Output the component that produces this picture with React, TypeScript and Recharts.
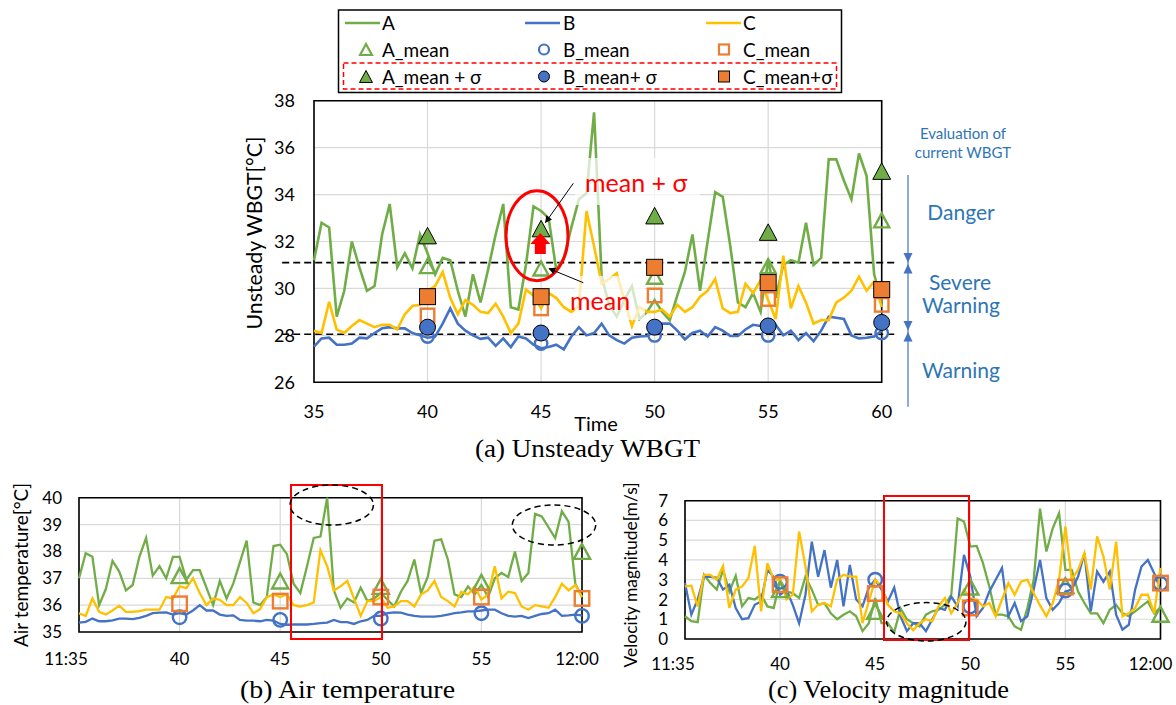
import React from "react";
import {
  ComposedChart,
  Line,
  Scatter,
  XAxis,
  YAxis,
  CartesianGrid,
  ReferenceArea,
  ReferenceLine,
} from "recharts";

const GREEN = "#70ad47";
const BLUE = "#4472c4";
const YELLOW = "#ffc000";
const ORANGE = "#ed7d31";
const NOTE = "#2e75b6";
const SANS = "Lato, 'Open Sans', sans-serif";
const SERIF = "'Liberation Serif', 'DejaVu Serif', serif";

// one sample every 20 s, 11:35 -> 12:00
const wbgtA = [
  31.2, 32.8, 32.6, 28.8, 29.9, 32.0, 30.9, 29.9, 30.1, 32.3,
  33.6, 30.9, 31.5, 30.85, 32.3, 31.5, 30.6, 31.3, 31.2, 29.9,
  28.8, 30.6, 29.4, 30.8, 32.3, 33.6, 29.2, 29.1, 31.0, 33.5,
  33.3, 33.0, 30.8, 31.3, 32.6, 33.8, 34.05, 37.5, 30.5, 29.3,
  28.8, 29.5, 30.1, 28.7, 29.0, 29.5, 29.0, 28.65, 29.7, 30.7,
  32.3, 29.9, 32.0, 34.1, 33.9, 31.8, 29.4, 29.2, 29.8, 29.0,
  31.2, 29.6, 31.0, 31.2, 31.1, 32.8, 31.0, 31.3, 35.5, 35.5,
  34.6, 33.8, 35.75, 34.8, 30.6, 29.4,
];
const wbgtB = [
  27.52, 27.87, 27.9, 27.6, 27.6, 27.65, 27.9, 27.87, 28.1, 28.3,
  28.35, 28.3, 28.3, 28.1, 28.0, 27.9, 27.95, 28.5, 29.15, 28.5,
  28.2, 28.0, 27.85, 27.9, 27.55, 27.87, 27.5, 27.95, 27.87, 27.6,
  27.45, 27.5, 27.6, 27.4, 27.95, 28.35, 28.0, 28.1, 28.5, 28.0,
  27.8, 27.65, 27.9, 27.95, 27.97, 28.2, 28.5, 28.5, 28.2, 27.83,
  28.1, 28.2, 27.95, 28.35, 28.2, 27.97, 27.97, 28.25, 28.45, 28.4,
  28.4, 28.45, 28.0, 28.2, 27.8, 28.1, 27.75, 28.2, 28.8, 28.75,
  28.7, 28.0, 27.87, 27.9, 27.95, 28.2,
];
const wbgtC = [
  28.2, 28.1, 29.43, 28.25, 28.1, 28.4, 28.65, 28.5, 28.35, 28.45,
  28.45, 28.25, 28.9, 29.25, 29.3, 29.9, 30.1, 30.7, 29.6, 28.9,
  29.5, 29.3, 29.0, 28.95, 29.35, 28.8, 28.1, 28.5, 29.95, 29.7,
  29.15, 29.8, 29.6, 29.2, 29.0, 29.25, 33.3, 31.8, 30.2, 30.4,
  30.65, 29.5, 28.4, 29.2, 29.0, 29.0, 29.1, 28.8, 29.3, 29.0,
  29.2, 29.65, 29.9, 30.4, 29.15, 28.95, 29.0, 30.2, 29.8, 30.35,
  29.5, 28.7, 31.4, 29.15, 30.1, 29.4, 28.5, 28.65, 28.65, 29.4,
  29.6, 29.9, 30.5, 29.9, 30.3, 29.2,
];

const airA = [
  37.0, 37.93, 37.8, 36.0, 36.6, 37.65, 37.25, 36.55, 36.75, 37.8,
  38.5, 37.1, 37.45, 37.0, 37.8, 37.8, 36.95, 37.3, 37.3, 36.65,
  36.0, 36.9, 36.25, 36.8, 37.6, 38.4, 36.1, 36.0, 36.3, 38.2,
  38.25, 37.9, 36.8, 36.45, 37.45, 38.5, 38.55, 40.0, 36.55, 35.9,
  36.25, 36.1, 36.65, 36.15, 36.25, 36.45, 36.2, 35.95, 36.5, 36.9,
  37.7, 36.45, 37.05, 38.4, 38.45, 37.7, 36.4, 36.3, 36.7, 36.4,
  36.75, 36.3, 37.0, 37.2, 37.05, 38.0, 36.9, 37.2, 39.4, 39.3,
  38.9, 38.5, 39.5, 39.1, 36.8, 36.3,
];
const airB = [
  35.35, 35.38, 35.5, 35.4, 35.4, 35.43, 35.5, 35.5, 35.48, 35.53,
  35.6, 35.7, 35.72, 35.73, 35.65, 35.7, 35.65, 35.8, 36.0, 35.8,
  35.8, 35.65, 35.6, 35.62, 35.45, 35.42, 35.42, 35.4, 35.45, 35.42,
  35.3, 35.27, 35.28, 35.28, 35.28, 35.3, 35.33, 35.35, 35.45, 35.37,
  35.37, 35.3, 35.4, 35.45, 35.6, 35.6, 35.7, 35.73, 35.72, 35.65,
  35.6, 35.57, 35.57, 35.57, 35.6, 35.65, 35.7, 35.73, 35.77, 35.77,
  35.8, 35.83, 35.83, 35.7, 35.6, 35.57, 35.6, 35.52, 35.6, 35.67,
  35.7, 35.83, 35.6, 35.62, 35.65, 35.62,
];
const airC = [
  35.7, 35.6, 36.25, 35.75, 35.65, 35.8, 35.98, 35.75, 35.75, 35.78,
  35.83, 35.83, 35.83, 36.3, 36.25, 36.7, 36.63, 37.0, 36.45, 36.0,
  36.25, 36.2, 36.0, 36.0, 36.3, 36.08, 35.7, 35.85, 36.3, 36.4,
  36.3, 36.4, 36.0, 35.95, 36.0, 36.1, 38.05, 37.45, 36.55, 36.7,
  36.9, 36.25, 35.6, 36.15, 36.15, 36.3, 35.9, 35.95, 36.15, 36.15,
  35.95, 36.4, 36.55, 36.9, 36.3, 36.15, 35.95, 36.5, 36.4, 36.7,
  36.2, 36.4, 37.45, 36.25, 36.5, 36.45, 35.95, 35.83, 36.0, 35.95,
  35.9, 36.3, 36.8, 36.55, 36.75, 36.3,
];

const velA = [
  1.15, 0.9, 0.85, 3.25, 2.83, 2.5, 3.5, 2.4, 3.2, 1.65,
  2.07, 2.0, 2.24, 1.65, 1.57, 3.0, 2.4, 2.32, 2.07, 3.16,
  2.5, 1.73, 1.82, 1.3, 1.0, 1.23, 1.4, 1.15, 0.4, 0.8,
  2.07, 0.8, 0.8, 0.34, 1.55, 1.0, 0.8, 0.64, 1.23, 1.4,
  1.48, 1.73, 2.24, 6.1, 5.95, 4.68, 4.71, 3.84, 2.66, 1.23,
  1.23, 1.15, 0.64, 0.47, 1.57, 3.0, 6.6, 4.43, 5.6, 6.36,
  3.5, 3.5, 2.4, 1.82, 1.3, 1.3, 0.8, 1.48, 1.73, 1.3,
  1.15, 1.4, 1.65, 1.9, 1.3, 1.6,
];
const velB = [
  2.83, 1.23, 2.0, 3.15, 3.15, 3.1, 2.5, 2.75, 1.57, 1.0,
  1.05, 1.73, 1.9, 3.5, 3.15, 2.24, 2.5, 1.73, 0.8, 2.24,
  4.93, 3.15, 4.5, 2.6, 4.0, 1.65, 3.75, 2.0, 1.65, 2.6,
  3.0, 2.5, 1.9, 2.6, 1.15, 0.4, 0.8, 0.8, 0.4, 1.0,
  1.57, 1.48, 2.15, 1.65, 4.26, 3.16, 1.15, 1.57, 2.4, 3.0,
  3.6, 1.15, 1.82, 0.9, 1.15, 2.5, 4.0, 2.07, 1.48, 1.82,
  2.4, 2.5, 3.16, 4.35, 1.4, 3.42, 2.9, 3.42, 1.23, 0.47,
  0.72, 2.5, 3.67, 4.0, 3.33, 2.5,
];
const velC = [
  2.66, 2.7, 1.65, 3.25, 3.25, 3.0, 3.7, 1.57, 2.5, 2.66,
  3.08, 4.71, 1.4, 3.84, 3.0, 3.0, 2.0, 2.24, 5.44, 3.67,
  1.4, 1.73, 1.82, 1.65, 3.0, 3.25, 3.16, 3.16, 0.8, 1.9,
  3.0, 2.66, 1.73, 1.4, 1.3, 0.8, 0.44, 0.8, 1.0, 0.9,
  1.65, 2.07, 1.3, 1.82, 2.5, 2.07, 2.0, 1.65, 1.82, 1.15,
  2.0, 2.83, 2.24, 2.9, 3.0, 2.32, 1.7, 1.15, 1.82, 3.0,
  5.7, 3.0, 3.5, 4.35, 2.5, 5.19, 4.18, 2.5, 4.93, 1.15,
  1.3, 1.57, 2.24, 2.24, 1.3, 3.6,
];

// 5-minute statistics at 40, 45, 50, 55, 60
const markMinutes = [40, 45, 50, 55, 60];
const wbgtAMean = [30.95, 30.85, 30.5, 30.95, 32.9];
const wbgtBMean = [27.95, 27.65, 28.0, 28.0, 28.1];
const wbgtCMean = [28.85, 29.15, 29.7, 29.55, 29.3];
const wbgtASig = [32.25, 32.55, 33.1, 32.4, 35.0];
const wbgtBSig = [28.35, 28.1, 28.35, 28.4, 28.55];
const wbgtCSig = [29.65, 29.65, 30.9, 30.25, 29.95];
const airAMean = [37.1, 36.9, 36.7, 36.85, 38.0];
const airBMean = [35.55, 35.45, 35.5, 35.7, 35.6];
const airCMean = [36.05, 36.15, 36.3, 36.3, 36.25];
const velAMean = [2.5, 1.4, 2.63, 2.7, 1.25];
const velBMean = [2.9, 3.0, 1.65, 2.45, 2.8];
const velCMean = [2.75, 2.3, 1.57, 2.63, 2.83];

// WBGT thresholds (severe warning / warning)
const thresholds = [31.1, 28.05];

const minuteTicks = [35, 40, 45, 50, 55, 60];
const wbgtTicks = [26, 28, 30, 32, 34, 36, 38];
const airTicks = [35, 36, 37, 38, 39, 40];
const velTicks = [0, 1, 2, 3, 4, 5, 6, 7];

const minutes = wbgtA.map((_, i) => 35 + i / 3);
const toRows = (a: number[], b: number[], c: number[]) =>
  minutes.map((t, i) => ({ t, A: a[i], B: b[i], C: c[i] }));
const toPts = (vals: number[]) => markMinutes.map((t, i) => ({ t, v: vals[i] }));
const clock = (v: number) => (v === 35 ? "11:35" : v === 60 ? "12:00" : String(v));

// Excel nudges the end labels inwards
const clockTick = (first: number, last: number) => (p: any) => {
  const v = p.payload.value;
  const dx = v === 35 ? first : v === 60 ? last : 0;
  return (
    <text x={p.x + dx} y={p.y} dy="0.71em" textAnchor="middle" fill="#000" fontSize={17} fontFamily={SANS}>
      {clock(v)}
    </text>
  );
};

type Kind = "tri" | "circle" | "square";

function drawMark(kind: Kind, color: string, filled: boolean, size: number, cx: number, cy: number, sw = 2.4) {
  const h = size / 2;
  const fill = filled ? color : "none";
  const stroke = filled ? "#000" : color;
  const w = filled ? 1 : sw;
  if (kind === "circle") return <circle cx={cx} cy={cy} r={h} fill={fill} stroke={stroke} strokeWidth={w} />;
  if (kind === "square")
    return <rect x={cx - h} y={cy - h} width={size} height={size} fill={fill} stroke={stroke} strokeWidth={w} />;
  return (
    <polygon
      points={`${cx},${cy - h} ${cx - h * 1.08},${cy + h} ${cx + h * 1.08},${cy + h}`}
      fill={fill}
      stroke={stroke}
      strokeWidth={w}
    />
  );
}

type MarkSet = { vals: number[]; kind: Kind; color: string; filled: boolean; size: number };

function Panel(props: {
  width: number;
  height: number;
  margin: { top: number; right: number; bottom: number; left: number };
  rows: any[];
  domain: [number, number];
  yTicks: number[];
  xTick?: any;
  xGap: number;
  yGap: number;
  fontSize: number;
  lineWidth: number;
  marks: MarkSet[];
  extra?: React.ReactNode;
}) {
  const tick = { fill: "#000", fontSize: props.fontSize, fontFamily: SANS };
  return (
    <ComposedChart width={props.width} height={props.height} data={props.rows} margin={props.margin}>
      <CartesianGrid stroke="#d9d9d9" strokeWidth={1.2} />
      <XAxis
        dataKey="t"
        type="number"
        domain={[35, 60]}
        ticks={minuteTicks}
        interval={0}
        axisLine={false}
        tickLine={false}
        tickSize={0}
        tickMargin={props.xGap}
        height={30}
        tick={props.xTick ?? tick}
      />
      <YAxis
        type="number"
        domain={props.domain}
        ticks={props.yTicks}
        interval={0}
        axisLine={false}
        tickLine={false}
        tickSize={0}
        tickMargin={props.yGap}
        width={60}
        tick={tick}
      />
      {props.extra}
      <Line dataKey="A" stroke={GREEN} strokeWidth={props.lineWidth} dot={false} activeDot={false} isAnimationActive={false} />
      <Line dataKey="B" stroke={BLUE} strokeWidth={props.lineWidth} dot={false} activeDot={false} isAnimationActive={false} />
      <Line dataKey="C" stroke={YELLOW} strokeWidth={props.lineWidth} dot={false} activeDot={false} isAnimationActive={false} />
      {props.marks.map((m, k) => (
        <Scatter
          key={k}
          data={toPts(m.vals)}
          dataKey="v"
          isAnimationActive={false}
          shape={(p: any) =>
            p.cx == null ? <g /> : drawMark(m.kind, m.color, m.filled, m.size, p.cx, p.cy)
          }
        />
      ))}
      <ReferenceArea
        x1={35}
        x2={60}
        y1={props.domain[0]}
        y2={props.domain[1]}
        fill="none"
        stroke="#000"
        strokeWidth={1.6}
      />
    </ComposedChart>
  );
}

function Legend() {
  const cols = [
    { name: "A", color: GREEN, kind: "tri" as Kind, x0: 345, mx: 366, tx: 382, sig: "A_mean + σ" },
    { name: "B", color: BLUE, kind: "circle" as Kind, x0: 525, mx: 544, tx: 563, sig: "B_mean+ σ" },
    { name: "C", color: YELLOW, kind: "square" as Kind, x0: 706, mx: 724, tx: 743, sig: "C_mean+σ" },
  ];
  const markColor = (c: string) => (c === YELLOW ? ORANGE : c);
  return (
    <g fontFamily={SANS} fontSize={19} fill="#000">
      <rect x={338.5} y={10} width={503} height={82.5} fill="#fff" stroke="#000" strokeWidth={1.5} />
      <rect x={343.5} y={63} width={493} height={26} fill="none" stroke="#ff0000" strokeWidth={1.5} strokeDasharray="5 3" />
      {cols.map((c) => (
        <g key={c.name}>
          <line x1={c.x0} x2={c.x0 + 35} y1={23} y2={23} stroke={c.color} strokeWidth={2.5} />
          <text x={c.tx} y={30}>{c.name}</text>
          {drawMark(c.kind, markColor(c.color), false, c.kind === "tri" ? 11 : 10, c.mx, 49.5, 2.2)}
          <text x={c.tx} y={56.5}>{`${c.name}_mean`}</text>
          {drawMark(c.kind, markColor(c.color), true, c.kind === "tri" ? 12 : 11, c.mx, 76.5)}
          <text x={c.tx} y={83.5}>{c.sig}</text>
        </g>
      ))}
    </g>
  );
}

function Overlay() {
  return (
    <svg
      width={1176}
      height={705}
      style={{ position: "absolute", left: 0, top: 0, pointerEvents: "none" }}
    >
      <defs>
        <marker id="head" viewBox="0 0 10 10" refX="9" refY="5" markerWidth="7" markerHeight="7" orient="auto">
          <path d="M0,0 L10,5 L0,10 z" fill="#000" />
        </marker>
      </defs>
      <Legend />

      {/* panel (a) annotations */}
      <rect x={575} y={158} width={125} height={47} fill="#fff" opacity={0.7} />
      <rect x={575} y={276} width={70} height={44} fill="#fff" opacity={0.7} />
      <text x={585} y={192} fontFamily={SANS} fontSize={25} fill="#ff0000">mean + σ</text>
      <text x={570} y={310} fontFamily={SANS} fontSize={25} fill="#ff0000">mean</text>
      <ellipse cx={537} cy={235.7} rx={31} ry={45} fill="none" stroke="#ff0000" strokeWidth={3} />
      <polygon
        points="540.3,233 550.3,244 545.8,244 545.8,254 534.8,254 534.8,244 530.3,244"
        fill="#ff0000"
      />
      <line x1={573.3} y1={183.3} x2={545.5} y2={222.5} stroke="#000" strokeWidth={1} markerEnd="url(#head)" />
      <line x1={583.3} y1={282.7} x2={549} y2={268.6} stroke="#000" strokeWidth={1} markerEnd="url(#head)" />

      <text x={253} y={233} transform="rotate(-90 253 233)" textAnchor="middle" dominantBaseline="central"
        fontFamily={SANS} fontSize={21} textLength={193} lengthAdjust="spacingAndGlyphs" fill="#000">
        Unsteady WBGT[°C]
      </text>
      <text x={596} y={431} textAnchor="middle" fontFamily={SANS} fontSize={20} fill="#000">Time</text>
      <text x={587.5} y={457} textAnchor="middle" fontFamily={SERIF} fontSize={26} textLength={225}
        lengthAdjust="spacingAndGlyphs" fill="#000">(a) Unsteady WBGT</text>

      {/* WBGT evaluation scale */}
      <g fill={NOTE} fontFamily={SANS} textAnchor="middle">
        <text x={963} y={139} fontSize={15}>Evaluation of</text>
        <text x={963} y={158} fontSize={15}>current WBGT</text>
        <text x={961} y={220} fontSize={21}>Danger</text>
        <text x={960} y={290} fontSize={21}>Severe</text>
        <text x={961} y={313} fontSize={21}>Warning</text>
        <text x={961} y={378} fontSize={21}>Warning</text>
      </g>
      <line x1={908} x2={908} y1={175} y2={406.7} stroke="#8faadc" strokeWidth={2} />
      <g fill={BLUE}>
        <polygon points="903.5,253 912.5,253 908,262.5" />
        <polygon points="908,264 903.5,273.5 912.5,273.5" />
        <polygon points="903.5,321 912.5,321 908,330.5" />
        <polygon points="908,332 903.5,341.5 912.5,341.5" />
      </g>

      {/* panel (b) */}
      <rect x={291} y={485} width={91} height={154} fill="none" stroke="#ff0000" strokeWidth={2} />
      <ellipse cx={331.7} cy={505} rx={41.7} ry={20} fill="none" stroke="#000" strokeWidth={1.5} strokeDasharray="6 4" />
      <ellipse cx={554} cy={525} rx={41.7} ry={20} fill="none" stroke="#000" strokeWidth={1.5} strokeDasharray="6 4" />
      <text x={20} y={565} transform="rotate(-90 20 565)" textAnchor="middle" dominantBaseline="central"
        fontFamily={SANS} fontSize={19} textLength={164} lengthAdjust="spacingAndGlyphs" fill="#000">
        Air temperature[°C]
      </text>
      <text x={347.5} y={698} textAnchor="middle" fontFamily={SERIF} fontSize={26} textLength={215}
        lengthAdjust="spacingAndGlyphs" fill="#000">(b) Air temperature</text>

      {/* panel (c) */}
      <rect x={884} y={496} width={85} height={144} fill="none" stroke="#ff0000" strokeWidth={2} />
      <ellipse cx={926.3} cy={621.8} rx={39.7} ry={19.2} fill="none" stroke="#000" strokeWidth={1.5} strokeDasharray="6 4" />
      <text x={630} y={575} transform="rotate(-90 630 575)" textAnchor="middle" dominantBaseline="central"
        fontFamily={SANS} fontSize={18} textLength={185} lengthAdjust="spacingAndGlyphs" fill="#000">
        Velocity magnitude[m/s]
      </text>
      <text x={888.5} y={698} textAnchor="middle" fontFamily={SERIF} fontSize={26} textLength={241}
        lengthAdjust="spacingAndGlyphs" fill="#000">(c) Velocity magnitude</text>
    </svg>
  );
}

export default function App() {
  const meanMarks = (a: number[], b: number[], c: number[], s: number): MarkSet[] => [
    { vals: a, kind: "tri", color: GREEN, filled: false, size: s },
    { vals: b, kind: "circle", color: BLUE, filled: false, size: s - 1.5 },
    { vals: c, kind: "square", color: ORANGE, filled: false, size: s - 0.5 },
  ];
  const wbgtMarks: MarkSet[] = [
    ...meanMarks(wbgtAMean, wbgtBMean, wbgtCMean, 14),
    { vals: wbgtASig, kind: "tri", color: GREEN, filled: true, size: 16.5 },
    { vals: wbgtBSig, kind: "circle", color: BLUE, filled: true, size: 16 },
    { vals: wbgtCSig, kind: "square", color: ORANGE, filled: true, size: 16 },
  ];
  const dashed = thresholds.map((y) => (
    <ReferenceLine
      key={y}
      segment={[
        { x: 33.6, y },
        { x: 60.7, y },
      ]}
      stroke="#000"
      strokeWidth={1.6}
      strokeDasharray="7 4"
      ifOverflow="visible"
    />
  ));
  return (
    <div
      style={{
        position: "absolute",
        left: 0,
        top: 0,
        width: 1176,
        height: 705,
        background: "#fff",
        fontFamily: SANS,
        overflow: "hidden",
      }}
    >
      <div style={{ position: "absolute", left: 0, top: 0 }}>
        <Panel
          width={1176}
          height={470}
          margin={{ top: 100.7, right: 294.3, bottom: 57.7, left: 254 }}
          rows={toRows(wbgtA, wbgtB, wbgtC)}
          domain={[26, 38]}
          yTicks={wbgtTicks}
          xGap={23}
          yGap={19}
          fontSize={18}
          lineWidth={2.6}
          marks={wbgtMarks}
          extra={dashed}
        />
      </div>
      <div style={{ position: "absolute", left: 0, top: 470 }}>
        <Panel
          width={620}
          height={235}
          margin={{ top: 27.7, right: 38, bottom: 43, left: 19 }}
          rows={toRows(airA, airB, airC)}
          domain={[35, 40]}
          yTicks={airTicks}
          xTick={clockTick(-13, -5)}
          xGap={21}
          yGap={17}
          fontSize={17}
          lineWidth={2.3}
          marks={meanMarks(airAMean, airBMean, airCMean, 15)}
        />
      </div>
      <div style={{ position: "absolute", left: 600, top: 470 }}>
        <Panel
          width={576}
          height={235}
          margin={{ top: 30.7, right: 15.5, bottom: 36, left: 25 }}
          rows={toRows(velA, velB, velC)}
          domain={[0, 7]}
          yTicks={velTicks}
          xTick={clockTick(-12, -10)}
          xGap={19}
          yGap={17}
          fontSize={17}
          lineWidth={2.3}
          marks={meanMarks(velAMean, velBMean, velCMean, 15)}
        />
      </div>
      <Overlay />
    </div>
  );
}
